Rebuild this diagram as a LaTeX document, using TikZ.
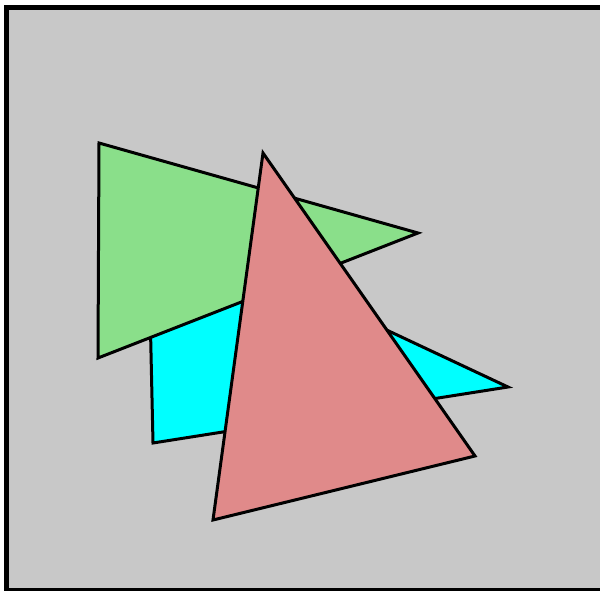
\documentclass[tikz,border=0pt]{standalone}
\definecolor{bggray}{RGB}{200,200,200}
\definecolor{tgreen}{RGB}{138,223,138}
\definecolor{tcyan}{RGB}{0,255,255}
\definecolor{tred}{RGB}{224,138,138}
\begin{document}
\begin{tikzpicture}[x=1pt,y=-1pt,
  tri/.style={draw=black,line width=3pt,line join=miter}]
\useasboundingbox (0,0) rectangle (600,591);
\clip (0,0) rectangle (600,591);
\fill[white] (0,0) rectangle (600,591);
\draw[fill=bggray,line width=5pt] (6.5,7.5) rectangle (603,590.5);
% cyan (bottom)
\coordinate (c1) at (148,218);
\coordinate (c2) at (508,387);
\coordinate (c3) at (153,443);
\draw[tri,fill=tcyan] (c1) -- (c2) -- (c3) -- cycle;
% green
\coordinate (g1) at (99,143);
\coordinate (g2) at (418,233);
\coordinate (g3) at (98,358);
\draw[tri,fill=tgreen] (g1) -- (g2) -- (g3) -- cycle;
% red (top)
\coordinate (r1) at (263,153);
\coordinate (r2) at (475,456);
\coordinate (r3) at (213,520);
\draw[tri,fill=tred] (r1) -- (r2) -- (r3) -- cycle;
\end{tikzpicture}
\end{document}
